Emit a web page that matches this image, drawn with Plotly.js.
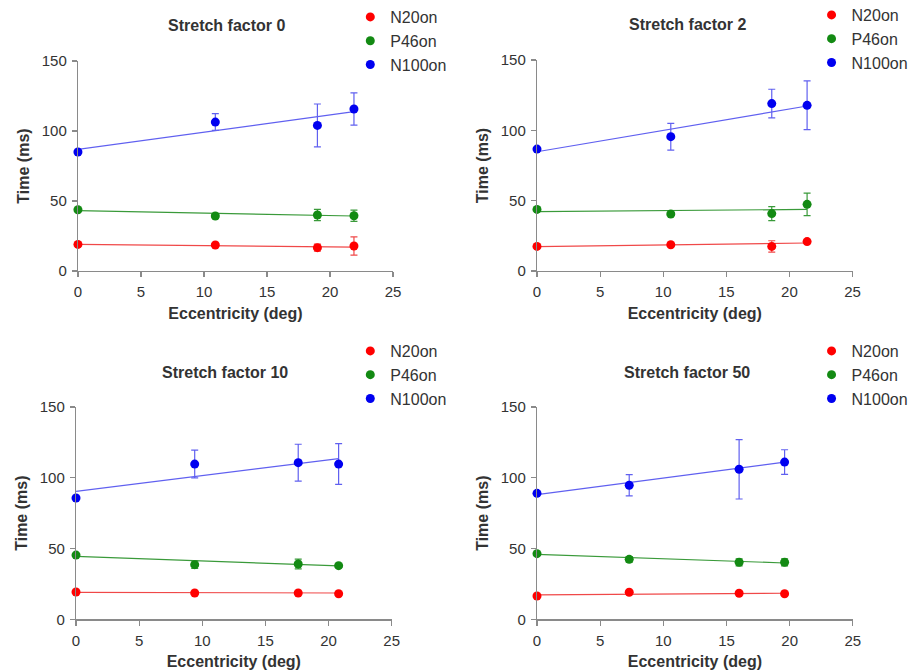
<!DOCTYPE html>
<html>
<head>
<meta charset="utf-8">
<script src="https://cdn.plot.ly/plotly-3.0.1.min.js"></script>
<style>html,body{margin:0;padding:0;background:#fff;}#chart{width:917px;height:672px;}</style>
</head>
<body>
<div id="chart"></div>
<script>
// ---- Data ----
var panelTitles = ["Stretch factor 0", "Stretch factor 2", "Stretch factor 10", "Stretch factor 50"];
var seriesNames = ["N20on", "P46on", "N100on"];

var ecc0  = [0, 10.9, 19.0, 21.9];
var ecc2  = [0, 10.6, 18.6, 21.4];
var ecc10 = [0, 9.4, 17.6, 20.8];
var ecc50 = [0, 7.3, 16.0, 19.6];

var n20_0  = [19.0, 18.6, 16.7, 17.9];
var p46_0  = [43.8, 39.3, 40.0, 39.5];
var n100_0 = [85.0, 106.4, 104.0, 115.7];
var n20Err_0  = [0, 1.0, 2.5, 6.5];
var p46Err_0  = [0, 1.5, 4.0, 4.0];
var n100Err_0 = [0, 6.0, 15.3, 11.5];
var fitStart_0 = [19.0, 43.1, 86.9];
var fitEnd_0   = [17.1, 39.3, 113.8];

var n20_2  = [17.5, 18.7, 17.5, 20.9];
var p46_2  = [43.8, 40.5, 40.8, 47.4];
var n100_2 = [86.7, 95.5, 119.0, 117.8];
var n20Err_2  = [0, 0.5, 4.0, 1.0];
var p46Err_2  = [0, 0.5, 5.0, 8.0];
var n100Err_2 = [0, 9.5, 10.2, 17.3];
var fitStart_2 = [17.3, 42.2, 84.8];
var fitEnd_2   = [19.9, 43.8, 117.3];

var n20_10  = [19.3, 18.6, 18.6, 18.1];
var p46_10  = [45.4, 38.6, 39.1, 37.9];
var n100_10 = [85.7, 109.7, 110.7, 109.7];
var n20Err_10  = [0, 0.5, 0.5, 0.5];
var p46Err_10  = [0, 2.7, 3.5, 1.0];
var n100Err_10 = [0, 9.8, 13.0, 14.4];
var fitStart_10 = [19.1, 44.5, 90.4];
var fitEnd_10   = [18.6, 37.7, 113.5];

var n20_50  = [16.5, 19.1, 18.4, 18.1];
var p46_50  = [46.4, 42.4, 40.3, 40.3];
var n100_50 = [89.0, 94.7, 106.0, 111.1];
var n20Err_50  = [0, 0.5, 0.5, 0.5];
var p46Err_50  = [0, 2.0, 2.5, 2.5];
var n100Err_50 = [0, 7.5, 21.0, 8.7];
var fitStart_50 = [17.2, 45.9, 88.1];
var fitEnd_50   = [18.4, 39.8, 111.1];

var xTicks = [0, 5, 10, 15, 20, 25];
var yTicks = [0, 50, 100, 150];

// ---- Styling ----
var markerColors = ["#ff0000", "#138a13", "#0000f0"];
var lineColors   = ["#f04848", "#3a9a3a", "#6060f0"];
var FONT = "Liberation Sans, Arial, sans-serif";

var panels = [
  {x: ecc0,  ys: [n20_0, p46_0, n100_0],   errs: [n20Err_0, p46Err_0, n100Err_0],    fs: fitStart_0,  fe: fitEnd_0},
  {x: ecc2,  ys: [n20_2, p46_2, n100_2],   errs: [n20Err_2, p46Err_2, n100Err_2],    fs: fitStart_2,  fe: fitEnd_2},
  {x: ecc10, ys: [n20_10, p46_10, n100_10], errs: [n20Err_10, p46Err_10, n100Err_10], fs: fitStart_10, fe: fitEnd_10},
  {x: ecc50, ys: [n20_50, p46_50, n100_50], errs: [n20Err_50, p46Err_50, n100Err_50], fs: fitStart_50, fe: fitEnd_50}
];

// plot-area domains (paper fractions)
var xDomains = [[0.085, 0.4286], [0.5856, 0.9297], [0.0829, 0.4271], [0.5856, 0.930]];
var yDomains = [[0.5967, 0.9092], [0.5967, 0.9107], [0.0784, 0.3943], [0.0784, 0.3943]];
var legendPos = [[0.382, 1.0], [0.885, 1.003], [0.382, 0.503], [0.885, 0.503]];
var titlePos  = [[226, 26], [687, 25], [225, 372], [687, 372]];

var traces = [];
var layout = {
  width: 917, height: 672,
  margin: {l: 0, r: 0, t: 0, b: 0, autoexpand: false},
  paper_bgcolor: "#ffffff", plot_bgcolor: "#ffffff",
  font: {family: FONT, size: 15, color: "#333333"},
  showlegend: true,
  annotations: []
};

panels.forEach(function (p, i) {
  var sfx = i === 0 ? "" : String(i + 1);
  var xa = "x" + sfx, ya = "y" + sfx;
  var legendId = "legend" + sfx;
  var lastX = p.x[p.x.length - 1];
  // fit lines
  for (var s = 0; s < 3; s++) {
    traces.push({
      type: "scatter", mode: "lines",
      x: [p.x[0], lastX], y: [p.fs[s], p.fe[s]],
      xaxis: xa, yaxis: ya,
      line: {color: lineColors[s], width: 1.2},
      showlegend: false, hoverinfo: "skip", cliponaxis: false
    });
  }
  // data points with error bars
  for (var s2 = 0; s2 < 3; s2++) {
    traces.push({
      type: "scatter", mode: "markers",
      name: seriesNames[s2],
      x: p.x, y: p.ys[s2],
      xaxis: xa, yaxis: ya,
      legend: legendId,
      marker: {color: markerColors[s2], size: 9},
      error_y: {type: "data", array: p.errs[s2], visible: true,
                color: lineColors[s2], thickness: 1.2, width: 3.5},
      cliponaxis: false
    });
  }
  var axCommon = {
    showgrid: false, zeroline: false, automargin: false,
    showline: true, linecolor: "#8a8a8a", linewidth: 1.2,
    ticks: "outside", ticklen: 5, tickcolor: "#8a8a8a", tickwidth: 1.2,
    tickfont: {family: FONT, size: 15, color: "#333333"},
    fixedrange: true
  };
  layout["xaxis" + sfx] = Object.assign({}, axCommon, {
    domain: xDomains[i], anchor: ya, range: [0, 25],
    tickmode: "array", tickvals: xTicks, ticktext: xTicks.map(String),
    ticklabelstandoff: 2,
    title: {text: "Eccentricity (deg)", font: {family: FONT, size: 16, color: "#333333", weight: "bold"}, standoff: 8}
  });
  layout["yaxis" + sfx] = Object.assign({}, axCommon, {
    domain: yDomains[i], anchor: xa, range: [0, 150],
    tickmode: "array", tickvals: yTicks, ticktext: yTicks.map(String),
    ticklabelstandoff: 2,
    title: {text: "Time (ms)", font: {family: FONT, size: 16, color: "#333333", weight: "bold"}, standoff: 8}
  });
  layout[legendId] = {
    x: legendPos[i][0], y: legendPos[i][1], xanchor: "left", yanchor: "top",
    bgcolor: "rgba(0,0,0,0)", borderwidth: 0,
    font: {family: FONT, size: 16, color: "#333333"},
    itemsizing: "trace", tracegroupgap: 0
  };
  layout.annotations.push({
    text: "<b>" + panelTitles[i] + "</b>",
    xref: "paper", yref: "paper",
    x: titlePos[i][0] / 917, y: 1 - titlePos[i][1] / 672,
    xanchor: "center", yanchor: "middle", showarrow: false,
    font: {family: FONT, size: 16, color: "#333333"}
  });
});

Plotly.newPlot("chart", traces, layout, {displayModeBar: false, staticPlot: true});
</script>
</body>
</html>
